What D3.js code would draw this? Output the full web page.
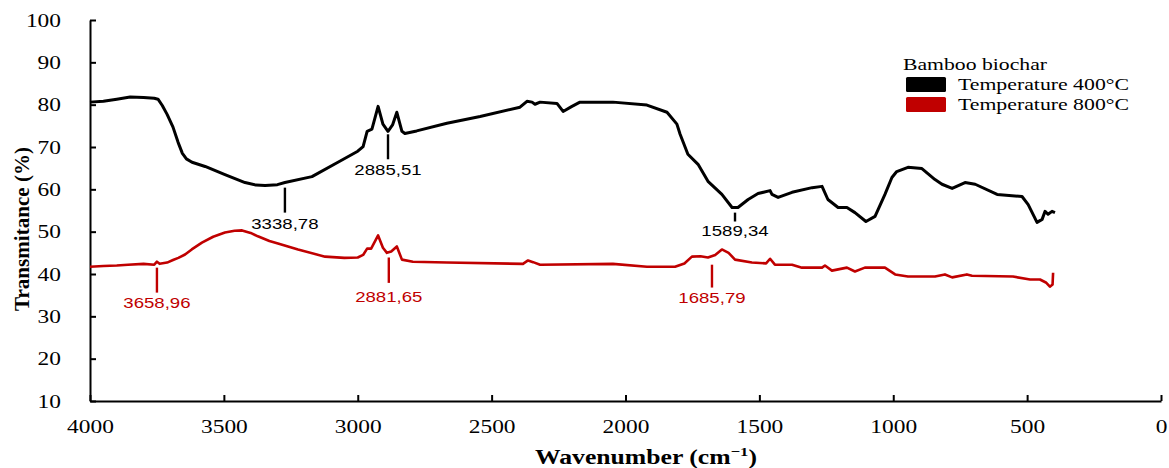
<!DOCTYPE html>
<html>
<head>
<meta charset="utf-8">
<script src="https://cdn.jsdelivr.net/npm/d3@7"></script>
<style>
  html, body { margin: 0; padding: 0; background: #fff; }
  svg { display: block; }
</style>
</head>
<body>
<svg id="chart" width="1169" height="468"></svg>
<script>
// ---------------- DATA ----------------
const xTicks = [4000, 3500, 3000, 2500, 2000, 1500, 1000, 500, 0];
const yTicks = [10, 20, 30, 40, 50, 60, 70, 80, 90, 100];
const seriesNames = ["Temperature 400°C", "Temperature 800°C"];
const seriesColors = ["#000000", "#c00000"];
const legendTitle = "Bamboo biochar";

// [wavenumber (cm-1), transmittance (%)]
const temp400 = [
  [4000,80.6],[3950,80.8],[3900,81.3],[3850,81.8],[3800,81.7],[3760,81.5],[3746,81.3],
  [3730,79.8],[3712,77.7],[3690,74.7],[3671,71.1],[3655,68.5],[3640,67.2],[3619,66.4],
  [3570,65.4],[3496,63.5],[3421,61.6],[3380,61.0],[3346,60.9],[3300,61.1],[3272,61.6],
  [3171,63.0],[3074,66.4],[3000,69.0],[2980,70.1],[2965,73.7],[2947,74.2],[2924,79.6],
  [2906,75.4],[2887,73.7],[2870,75.2],[2854,78.2],[2835,73.7],[2824,73.2],[2780,73.8],
  [2667,75.6],[2543,77.2],[2394,79.4],[2368,80.8],[2349,80.6],[2338,80.1],[2319,80.6],
  [2256,80.3],[2233,78.4],[2200,79.6],[2170,80.6],[2047,80.6],[1920,79.9],[1845,78.2],
  [1808,75.4],[1796,73.0],[1767,68.3],[1729,65.9],[1692,61.9],[1640,58.8],[1602,55.7],
  [1580,55.7],[1542,57.6],[1505,59.0],[1460,59.7],[1453,58.8],[1430,58.1],[1378,59.3],
  [1303,60.4],[1266,60.7],[1244,57.6],[1206,55.7],[1173,55.7],[1143,54.5],[1102,52.4],
  [1068,53.6],[1031,58.8],[1005,62.8],[987,64.2],[945,65.2],[893,64.9],[844,62.3],
  [818,61.2],[780,60.2],[732,61.6],[694,61.2],[612,58.8],[519,58.3],[496,56.4],
  [463,52.2],[444,52.9],[433,54.8],[422,54.1],[407,54.8],[396,54.5]
];
const temp800 = [
  [4000,41.7],[3950,41.9],[3900,42.0],[3858,42.2],[3800,42.4],[3760,42.2],[3750,42.9],
  [3740,42.4],[3712,42.7],[3690,43.3],[3670,43.8],[3645,44.6],[3620,45.8],[3582,47.4],
  [3540,48.8],[3496,49.8],[3460,50.2],[3432,50.3],[3400,49.7],[3373,48.9],[3330,47.8],
  [3298,47.2],[3223,45.8],[3122,44.1],[3050,43.8],[3000,43.9],[2980,44.5],[2965,46.0],
  [2950,46.0],[2924,49.1],[2906,46.2],[2891,45.0],[2875,45.3],[2854,46.5],[2835,43.4],
  [2794,42.9],[2667,42.7],[2383,42.4],[2364,43.2],[2345,42.8],[2319,42.2],[2047,42.4],
  [1920,41.7],[1815,41.7],[1780,42.5],[1752,44.1],[1720,44.2],[1692,43.9],[1665,44.5],
  [1640,45.8],[1615,45.0],[1591,43.4],[1528,42.7],[1475,42.5],[1460,43.6],[1442,42.2],
  [1378,42.2],[1341,41.5],[1266,41.5],[1255,42.0],[1229,40.8],[1173,41.5],[1143,40.6],
  [1106,41.5],[1031,41.5],[993,39.9],[945,39.4],[844,39.4],[807,39.9],[780,39.2],
  [725,39.9],[706,39.6],[553,39.4],[489,38.7],[452,38.7],[430,38.0],[415,37.0],
  [405,37.5],[403,40.3]
];

// peak annotations
const peakLabels = ["3338,78", "2885,51", "1589,34", "3658,96", "2881,65", "1685,79"];
const peakX      = [3272, 2887, 1591, 3750, 2884, 1677];
const peakYTop   = [60.4, 73.0, 54.5, 41.5, 43.9, 42.2];
const peakYBot   = [54.5, 67.1, 52.4, 35.6, 37.9, 36.8];
const peakLabelY = [51.9, 64.7, 50.3, 33.2, 34.6, 34.4];
const peakSeries = [0, 0, 0, 1, 1, 1];

// ---------------- CHART ----------------
const SERIF = "'Liberation Serif', 'Times New Roman', serif";
const SANS = "'Liberation Sans', Arial, sans-serif";
const svg = d3.select("#chart");
const x = d3.scaleLinear().domain([4000, 0]).range([90, 1161]);
const y = d3.scaleLinear().domain([10, 100]).range([401, 20]);

function stretch(sel, f) {
  sel.each(function () {
    const w = this.getComputedTextLength();
    if (w > 0) {
      d3.select(this).attr("textLength", w * f).attr("lengthAdjust", "spacingAndGlyphs");
    }
  });
}

// axes
const xAxis = d3.axisBottom(x).tickValues(xTicks).tickSizeInner(-6).tickSizeOuter(0)
  .tickPadding(25).tickFormat(d3.format("d"));
const gx = svg.append("g").attr("transform", `translate(0,${y(10)})`).call(xAxis);
const yAxis = d3.axisLeft(y).tickValues(yTicks).tickSizeInner(-6).tickSizeOuter(0)
  .tickPadding(29).tickFormat(d3.format("d"));
const gy = svg.append("g").attr("transform", `translate(${x(4000)},0)`).call(yAxis);

[gx, gy].forEach(g => {
  g.attr("font-family", SERIF).attr("font-size", 18);
  g.select(".domain").attr("stroke", "#000").attr("stroke-width", 2);
  g.selectAll(".tick line").attr("stroke", "#000").attr("stroke-width", 2);
  g.selectAll(".tick text").attr("fill", "#000")
    .style("font-family", SERIF)
    .style("font-size", "18px");
});
gx.selectAll(".tick text").attr("dy", "0.4em");
gy.selectAll(".tick text").attr("dy", "0.35em");
stretch(gx.selectAll(".tick text"), 1.3);
stretch(gy.selectAll(".tick text"), 1.3);

// lines
const line = d3.line().x(d => x(d[0])).y(d => y(d[1]));
[temp400, temp800].forEach((s, i) => {
  svg.append("path").datum(s)
    .attr("fill", "none")
    .attr("stroke", seriesColors[i])
    .attr("stroke-width", i === 0 ? 3 : 2.6)
    .attr("stroke-linejoin", "round")
    .attr("d", line);
});

// peak annotations
peakLabels.forEach((lab, i) => {
  const c = seriesColors[peakSeries[i]];
  svg.append("line")
    .attr("x1", x(peakX[i])).attr("x2", x(peakX[i]))
    .attr("y1", y(peakYTop[i])).attr("y2", y(peakYBot[i]))
    .attr("stroke", c).attr("stroke-width", 2.4);
  const t = svg.append("text")
    .attr("x", x(peakX[i])).attr("y", y(peakLabelY[i]))
    .attr("dy", "0.36em")
    .attr("text-anchor", "middle")
    .attr("fill", c)
    .style("font-family", SANS)
    .style("font-size", "15px")
    .text(lab);
  stretch(t, 1.24);
});

// axis titles
const xt = svg.append("text")
  .attr("x", 646).attr("y", 464)
  .attr("text-anchor", "middle")
  .style("font-family", SERIF)
  .style("font-size", "20px").style("font-weight", "bold");
xt.append("tspan").text("Wavenumber (cm");
xt.append("tspan").attr("dy", -8).style("font-size", "13px").text("−1");
xt.append("tspan").attr("dy", 8).text(")");
xt.attr("textLength", 222).attr("lengthAdjust", "spacingAndGlyphs");

const yt = svg.append("text")
  .attr("transform", "translate(29,229) rotate(-90)")
  .attr("text-anchor", "middle")
  .style("font-family", SERIF)
  .style("font-size", "21px").style("font-weight", "bold")
  .text("Transmitance (%)");
yt.attr("textLength", 164).attr("lengthAdjust", "spacingAndGlyphs");

// legend
const lg = svg.append("g");
lg.append("text").attr("x", 903).attr("y", 70)
  .style("font-family", SERIF)
  .style("font-size", "16px").text(legendTitle)
  .attr("textLength", 144).attr("lengthAdjust", "spacingAndGlyphs");
seriesNames.forEach((n, i) => {
  lg.append("rect").attr("x", 906).attr("y", 77 + i * 20)
    .attr("width", 40).attr("height", 15).attr("rx", 1.5)
    .attr("fill", seriesColors[i]);
  lg.append("text").attr("x", 958).attr("y", 90 + i * 20)
    .style("font-family", SERIF)
    .style("font-size", "16px").text(n)
    .attr("textLength", 171).attr("lengthAdjust", "spacingAndGlyphs");
});
</script>
</body>
</html>
